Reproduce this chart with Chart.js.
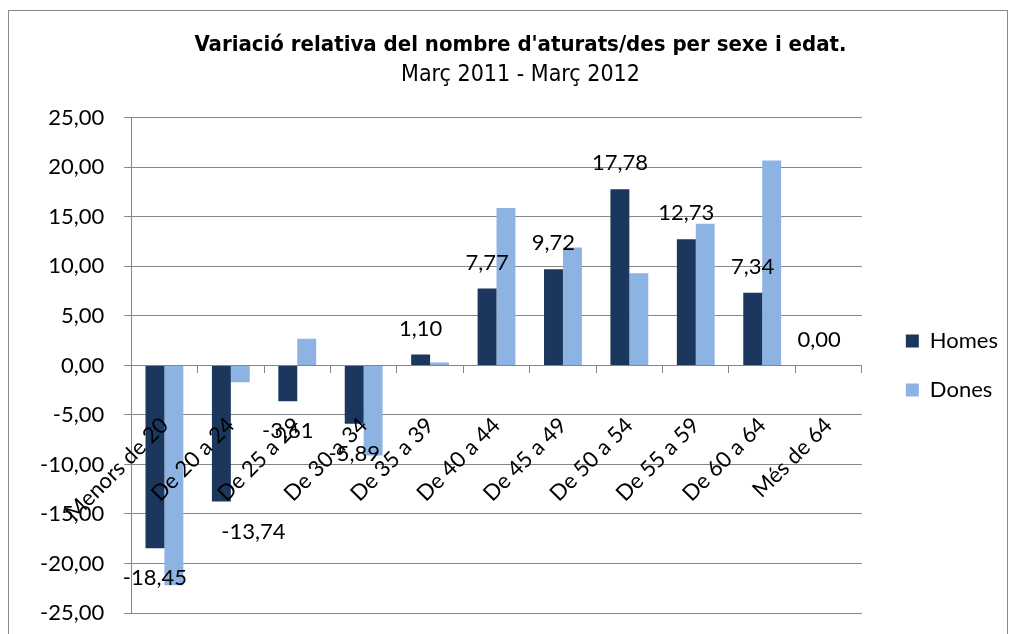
<!DOCTYPE html>
<html>
<head>
<meta charset="utf-8">
<script src="https://cdn.jsdelivr.net/npm/chart.js@4.4.1/dist/chart.umd.min.js"></script>
<style>
  html, body { margin: 0; padding: 0; background: #fff; }
  #wrap { width: 1016px; height: 634px; position: relative; }
</style>
</head>
<body>
<div id="wrap"><canvas id="chart" width="1016" height="634"></canvas></div>
<script>
const categories = ["Menors de 20","De 20 a 24","De 25 a 29","De 30 a 34","De 35 a 39","De 40 a 44","De 45 a 49","De 50 a 54","De 55 a 59","De 60 a 64","Més de 64"];
const homes = [-18.45, -13.74, -3.61, -5.89, 1.10, 7.77, 9.72, 17.78, 12.73, 7.34, 0.00];
const dones = [-22.2, -1.7, 2.7, -9.1, 0.3, 15.9, 11.9, 9.3, 14.3, 20.7, 0.00];
const yTicks = [-25, -20, -15, -10, -5, 0, 5, 10, 15, 20, 25];

const FONT = "Lato, 'Open Sans', sans-serif";
const TITLE_FONT = "'DejaVu Sans Condensed', 'Liberation Sans', sans-serif";
const GRID = "#868686";
const fmt = v => v.toFixed(2).replace(".", ",");

// border around the whole chart
const frame = {
  id: "frame",
  beforeDraw(chart) {
    const ctx = chart.ctx;
    ctx.save();
    ctx.strokeStyle = "#8a8a8a";
    ctx.lineWidth = 1;
    ctx.strokeRect(8.5, 10.5, 999, 640);
    ctx.restore();
  }
};

// nudge legend and titles to where the original has them
const shiftBoxes = {
  id: "shiftBoxes",
  afterLayout(chart) {
    const lg = chart.legend;
    if (lg) {
      lg.left += 17; lg.right += 17;
      lg.top += 59; lg.bottom += 59;
    }
    chart.boxes.forEach(b => {
      if (b !== lg && b.options && typeof b.options.text === "string") {
        b.left += 15; b.right += 15;
      }
    });
  }
};

// value labels on the Homes series
const valueLabels = {
  id: "valueLabels",
  afterDatasetsDraw(chart) {
    const ctx = chart.ctx;
    const meta = chart.getDatasetMeta(0);
    const nudge = { 1: 32 };
    ctx.save();
    ctx.font = "22px " + FONT;
    ctx.fillStyle = "#000";
    ctx.textAlign = "center";
    ctx.textBaseline = "middle";
    meta.data.forEach((bar, i) => {
      const v = homes[i];
      const y = v < 0 ? bar.y + 30 : bar.y - 26;
      ctx.fillText(fmt(v), bar.x + (nudge[i] || 0), y);
    });
    ctx.restore();
  }
};

new Chart(document.getElementById("chart"), {
  type: "bar",
  data: {
    labels: categories,
    datasets: [
      { label: "Homes", data: homes, backgroundColor: "#1c375e", categoryPercentage: 0.57, barPercentage: 1 },
      { label: "Dones", data: dones, backgroundColor: "#8db3e2", categoryPercentage: 0.57, barPercentage: 1 }
    ]
  },
  options: {
    responsive: false,
    animation: false,
    layout: { padding: { left: 20, right: 25, top: 0, bottom: 21 } },
    plugins: {
      title: {
        display: true,
        text: "Variació relativa del nombre d'aturats/des per sexe i edat.",
        color: "#000",
        font: { family: TITLE_FONT, size: 22, weight: "bold", lineHeight: 1.2 },
        padding: { top: 32, bottom: 3 }
      },
      subtitle: {
        display: true,
        text: "Març 2011 - Març 2012",
        color: "#000",
        font: { family: TITLE_FONT, size: 23, lineHeight: 1.15 },
        padding: { top: 0, bottom: 30 }
      },
      legend: {
        position: "right",
        labels: { font: { family: FONT, size: 22 }, color: "#000", boxWidth: 13, boxHeight: 13, padding: 27 }
      },
      tooltip: { enabled: false }
    },
    scales: {
      x: {
        position: { y: 0 },
        grid: { offset: true, drawOnChartArea: false, tickLength: 7, color: GRID },
        border: { color: GRID, z: 1 },
        ticks: { font: { family: FONT, size: 22 }, color: "#000", maxRotation: 45, minRotation: 45, padding: 40, autoSkip: false, z: 1 }
      },
      y: {
        min: -25, max: 25,
        afterBuildTicks: s => { s.ticks = yTicks.map(v => ({ value: v })); },
        afterFit: s => { s.paddingTop = 13; s.paddingBottom = 13; },
        grid: { color: GRID, tickLength: 7 },
        border: { color: GRID },
        ticks: { font: { family: FONT, size: 22 }, color: "#000", padding: 20, callback: v => fmt(v) }
      }
    }
  },
  plugins: [frame, shiftBoxes, valueLabels]
});
</script>
</body>
</html>
